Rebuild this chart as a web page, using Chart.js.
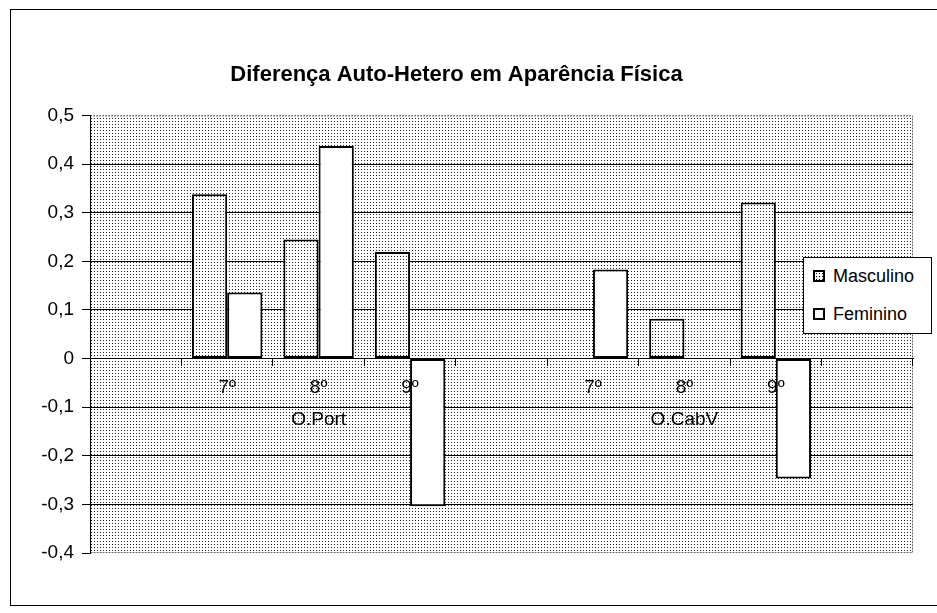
<!DOCTYPE html>
<html>
<head>
<meta charset="utf-8">
<script src="https://cdn.jsdelivr.net/npm/chart.js@4.4.1/dist/chart.umd.min.js"></script>
<style>
  html, body { margin: 0; padding: 0; background: #fff; }
  #wrap { position: relative; width: 937px; height: 613px; overflow: hidden; }
  #frame { position: absolute; left: 10px; top: 9px; width: 940px; height: 595px; border: 1px solid #000; }
  #chart { position: absolute; left: 0; top: 0; }
  #legend {
    position: absolute; left: 803px; top: 257px; width: 127px; height: 75px;
    border: 1px solid #000; background: #fff;
    font-family: Arial, "Liberation Sans", sans-serif; font-size: 18px; color: #000;
  }
  .item { position: absolute; left: 9px; height: 20px; line-height: 20px; white-space: nowrap; }
  .sw { display: inline-block; width: 8px; height: 8px; border: 2px solid #000; background: #fff;
        vertical-align: middle; margin-right: 8px; position: relative; top: -1px; }
  .sw.dots { background-image: radial-gradient(circle, #000 0.7px, #fff 0.8px); background-size: 3px 3px; }
</style>
</head>
<body>
<div id="wrap">
  <div id="frame"></div>
  <canvas id="chart" width="937" height="613"></canvas>
  <div id="legend">
    <div class="item" style="top:8px"><span class="sw dots"></span>Masculino</div>
    <div class="item" style="top:46px"><span class="sw"></span>Feminino</div>
  </div>
</div>
<script>
// categories (blank slots separate the two groups)
const levels = ['', '7º', '8º', '9º', '', '7º', '8º', '9º', ''];
const groups = ['', '', 'O.Port', '', '', '', 'O.CabV', '', ''];

// series values
const masculino = [null, 0.338, 0.245, 0.219, null, null, 0.082, 0.321, null];
const feminino  = [null, 0.136, 0.437, -0.304, null, 0.183, null, -0.247, null];

const yMin = -0.4;
const yMax = 0.5;

function makeDots() {
    const c = document.createElement('canvas');
    c.width = 3; c.height = 3;
    const g = c.getContext('2d');
    g.fillStyle = '#fff';
    g.fillRect(0, 0, 3, 3);
    g.fillStyle = '#222';
    g.fillRect(1, 1, 1, 1);
    return g.createPattern(c, 'repeat');
}
const dots = makeDots();

const labels = levels.map((l, i) => groups[i] ? [l, groups[i]] : l);

// dotted plot background and dashed plot border, like the old spreadsheet look
const plotArea = {
    id: 'plotArea',
    beforeDraw(chart) {
        const { ctx, chartArea: a } = chart;
        ctx.save();
        ctx.fillStyle = dots;
        ctx.fillRect(a.left, a.top, a.width, a.height);
        ctx.strokeStyle = '#666';
        ctx.lineWidth = 1;
        ctx.setLineDash([2, 1]);
        ctx.beginPath();
        ctx.moveTo(a.left, a.top + 0.5);
        ctx.lineTo(a.right - 0.5, a.top + 0.5);
        ctx.lineTo(a.right - 0.5, a.bottom - 0.5);
        ctx.lineTo(a.left, a.bottom - 0.5);
        ctx.stroke();
        ctx.restore();
    }
};

const font = 'Arial, "Liberation Sans", sans-serif';

const ctx = document.getElementById('chart');
new Chart(ctx, {
    type: 'bar',
    data: {
        labels: labels,
        datasets: [{
            label: 'Masculino',
            data: masculino,
            backgroundColor: dots,
            borderColor: '#000',
            borderWidth: 2,
            borderSkipped: false
        }, {
            label: 'Feminino',
            data: feminino,
            backgroundColor: '#fff',
            borderColor: '#000',
            borderWidth: 2,
            borderSkipped: false
        }]
    },
    options: {
        responsive: false,
        animation: false,
        layout: { padding: { left: 0, right: 24, top: 2, bottom: 60 } },
        datasets: {
            bar: { categoryPercentage: 0.77, barPercentage: 1 }
        },
        plugins: {
            legend: { display: false },
            tooltip: { enabled: false },
            title: {
                display: true,
                text: 'Diferença Auto-Hetero em Aparência Física',
                color: '#000',
                font: { family: font, size: 22, weight: 'bold', lineHeight: 1.2 },
                padding: { top: 60, bottom: 27 }
            }
        },
        scales: {
            x: {
                position: { y: 0 },
                grid: {
                    offset: true,
                    drawOnChartArea: false,
                    drawTicks: true,
                    tickLength: 7,
                    color: '#000'
                },
                border: { display: true, color: '#000', width: 1 },
                ticks: {
                    z: 1,
                    color: '#000',
                    padding: 6,
                    maxRotation: 0,
                    autoSkip: false,
                    font: { family: font, size: 19, lineHeight: 1.7 }
                }
            },
            y: {
                min: yMin,
                max: yMax,
                afterFit(scale) { scale.width = 90; },
                grid: {
                    color: c => (Math.abs(c.tick.value - yMin) < 1e-9 || Math.abs(c.tick.value - yMax) < 1e-9) ? 'rgba(0,0,0,0)' : '#000',
                    tickColor: '#000',
                    tickLength: 8,
                    lineWidth: 1
                },
                border: { display: true, color: '#000', width: 1 },
                ticks: {
                    stepSize: 0.1,
                    color: '#000',
                    padding: 8,
                    font: { family: font, size: 19 },
                    callback: v => Math.abs(v) < 1e-9 ? '0' : v.toFixed(1).replace('.', ',')
                }
            }
        }
    },
    plugins: [plotArea]
});
</script>
</body>
</html>
